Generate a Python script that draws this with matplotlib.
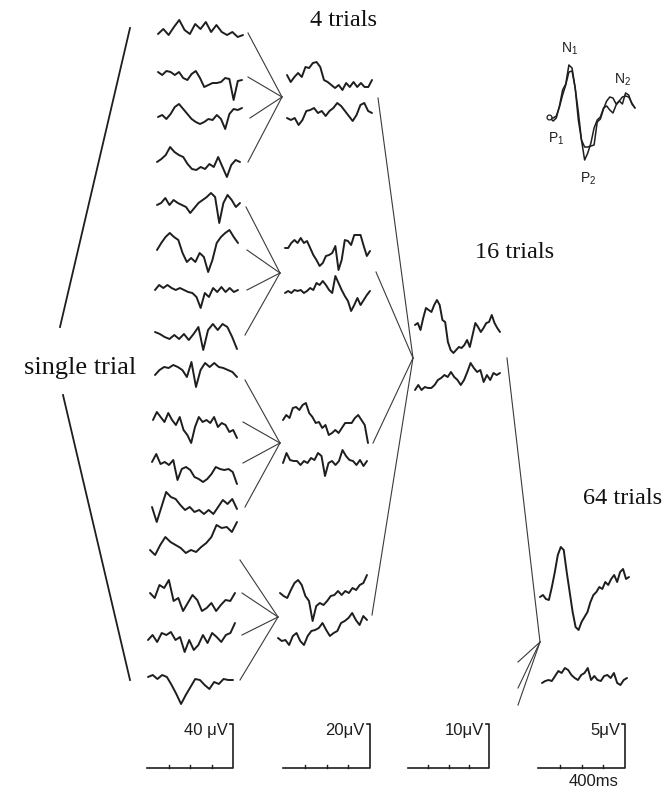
import numpy as np
import matplotlib
matplotlib.use("Agg")
import matplotlib.pyplot as plt

# ---------------- data: deflections of each trace (arbitrary units, up = positive) -------------
single_trials = [
    [-2, 3, -3, 5, 12, 2, -2, 8, 3, 10, 0, 7, 0, -3, 0, -5, -3],
    [3, 0, 4, 3, 0, 3, -3, -5, 1, 4, -3, -12, -10, -8, -8, -7, -3, -4, -25, -6, -5],
    [0, 2, -2, 3, 10, 13, 8, 3, -2, -5, -7, -5, -2, -3, 2, -2, -12, 3, 8, 7, 9],
    [0, 3, 7, 15, 10, 7, 5, -2, -7, -8, -5, -7, -2, -5, 5, -5, -15, -3, 2, 0],
    [0, 2, 7, 0, 5, 2, 0, -2, -8, -3, 2, 5, 8, 12, 8, -18, 2, 10, 5, -2, 2],
    [0, 7, 13, 17, 13, 10, -3, -12, -8, -12, -3, -7, -22, -10, 7, 13, 17, 20, 13, 7],
    [0, 5, 2, 5, 2, 0, 2, 0, -2, -3, -7, -18, -3, -7, 2, -2, 3, -2, 2, -2, 0],
    [0, -2, -5, -7, -3, -7, -2, -8, -2, 5, -18, 2, 8, 2, 8, 5, -5, -17],
    [0, 5, 8, 7, 10, 8, 5, -2, 13, -12, 5, 12, 8, 12, 8, 7, 5, 3, -2],
    [0, 8, 3, -2, 7, 0, -5, 3, -10, -15, -23, -7, 3, -2, 0, -3, 3, -7, -3, -5, -12, -10, -18],
    [0, 8, -2, 0, -3, 2, -18, -7, -5, -8, -15, -17, -20, -17, -12, -5, -7, -8, -7, -10, -22],
    [0, -15, 0, 15, 10, 8, 2, -3, 0, -5, -3, -7, -3, -7, 0, 7, 3, 8, -2],
    [0, -5, 5, 13, 8, 5, 2, -3, 0, -2, 3, 7, 13, 25, 22, 23, 18, 28],
    [0, -5, 8, 5, 13, -8, -5, -18, -10, -2, -7, -18, -15, -10, -18, -12, -7, -8, 0],
    [0, 5, -2, 7, 5, 8, 0, 3, -12, 0, -10, -5, 5, -3, 7, 3, -2, 5, 7, 17],
    [0, 2, -2, 2, 0, -8, -17, -27, -18, -10, -2, -3, -8, -12, -5, -7, -2, -3, -3],
]

four_trials = [
    [0, -7, -2, 2, -2, 8, 7, 12, 13, 8, -5, -7, -10, -13, -10, -15, -8, -12, -7, -12, -8, -12, -12, -5],
    [0, -2, 0, -7, -2, 7, 8, 10, 5, 7, 2, 7, 10, 15, 12, 7, 2, -3, 3, 13, 15, 7, 5],
    [0, 0, 5, 8, 5, 10, 5, 7, 0, -7, -12, -18, -15, -8, -7, -5, 2, -22, -12, 8, 7, 3, 13, 13, 13, 2, -8, -3],
    [0, 2, 0, 3, 2, 3, 0, 2, 5, 3, 10, 8, 12, 8, 3, 0, 17, 10, 3, -3, -8, -18, -12, -5, -12, -7, -2, 2],
    [0, 5, 2, 12, 13, 10, 15, 17, 7, 3, -3, -2, -8, -5, -15, -13, -10, -13, -8, -3, -3, -3, 2, 5, 0, -5, -23],
    [0, 10, 3, 2, 2, -2, 2, 0, 5, 3, 10, 7, -13, 0, 2, -2, 2, 13, 7, 3, 2, -2, 3, -3, 2],
    [0, -3, -5, 3, 10, 13, 8, -3, -8, -28, -13, -10, -12, -8, -3, -2, 2, -2, 2, 0, 5, 3, 8, 10, 18],
    [0, -3, -2, -7, 2, 5, -3, -7, 2, 7, 8, 10, 15, 8, 2, 5, 7, 15, 17, 20, 25, 18, 13, 22, 18],
]

sixteen_trials = [
    [0, 2, -5, 7, 17, 15, 13, 20, 25, 20, 5, 3, -17, -25, -28, -25, -22, -23, -20, -15, -22, -10, 2, -2, -7, -3, 2, 3, 10, 2, -3, -7],
    [0, 5, 0, 3, 2, 2, 5, 10, 12, 15, 13, 18, 13, 10, 5, 10, 18, 27, 22, 18, 20, 8, 15, 10, 17, 15, 17],
]

sixty_four_trials = [
    [0, 2, -2, -3, 10, 25, 42, 50, 47, 25, 5, -15, -30, -33, -25, -20, -15, -5, 2, 5, 10, 8, 15, 12, 18, 22, 15, 25, 28, 18, 20],
    [0, 2, 3, 2, 7, 12, 10, 15, 13, 8, 5, 3, 8, 10, 15, 3, 7, 3, 2, 7, 8, 5, 10, 0, -2, 3, 5],
]

inset_traces = [
    [0, -3, 0, 12, 28, 34, 53, 50, 30, 6, -22, -29, -29, -28, -27, -4, -1, 9, 17, 21, 20, 14, 17, 14, 25, 23, 14, 10],
    [0, 0, 2, 11, 23, 33, 46, 47, 30, -2, -22, -42, -35, -25, -10, -2, 1, 10, 12, 8, 5, 13, 17, 21, 22, 21, 15, 10],
]
inset_labels = ["N$_\\mathregular{1}$", "N$_\\mathregular{2}$", "P$_\\mathregular{1}$", "P$_\\mathregular{2}$"]

column_titles = ["single trial", "4 trials", "16 trials", "64 trials"]
scale_labels = ["40 μV", "20μV", "10μV", "5μV"]
time_label = "400ms"

# ---------------- layout (pixel coordinates) ----------------
single_base = [32, 75, 117, 162, 205, 250, 290, 332, 375, 420, 462, 507, 550, 593, 640, 677]
single_x0 = [158, 158, 158, 157, 157, 157, 155, 155, 155, 153, 152, 152, 150, 150, 148, 148]
single_x1 = [243, 242, 242, 240, 240, 238, 238, 237, 237, 237, 237, 237, 237, 235, 235, 233]

four_base = [75, 118, 248, 293, 420, 463, 593, 638]
four_x0 = [287, 287, 285, 285, 283, 283, 280, 278]
four_x1 = [372, 372, 370, 370, 368, 367, 367, 367]

sixteen_base = [325, 390]
sixteen_x = (415, 500)
sf_base = [597, 683]
sf_x0 = [540, 542]
sf_x1 = [629, 627]

ink = "#1e1e1e"
line_c = "#3a3a3a"

fig = plt.figure(figsize=(6.62, 7.89), dpi=100)
ax = fig.add_axes([0, 0, 1, 1])
ax.set_xlim(0, 662)
ax.set_ylim(789, 0)
ax.axis("off")


def trace(vals, x0, x1, base, lw=1.4, color=ink):
    v = np.asarray(vals, dtype=float)
    x = np.linspace(x0, x1, len(v))
    ax.plot(x, base - v, color=color, lw=lw, solid_joinstyle="round", solid_capstyle="round")


for vals, b, a, c in zip(single_trials, single_base, single_x0, single_x1):
    trace(vals, a, c, b)
for vals, b, a, c in zip(four_trials, four_base, four_x0, four_x1):
    trace(vals, a, c, b)
for vals, b in zip(sixteen_trials, sixteen_base):
    trace(vals, sixteen_x[0], sixteen_x[1], b)
for vals, b, a, c in zip(sixty_four_trials, sf_base, sf_x0, sf_x1):
    trace(vals, a, c, b)

# fan-in lines
fans = [
    ((282, 97), [(248, 33), (248, 77), (250, 118), (248, 162)]),
    ((280, 273), [(246, 207), (247, 250), (247, 290), (245, 335)]),
    ((280, 443), [(245, 380), (243, 422), (243, 463), (245, 507)]),
    ((278, 617), [(240, 560), (242, 593), (242, 635), (240, 680)]),
    ((413, 358), [(378, 98), (376, 272), (373, 443), (372, 615)]),
    ((540, 642), [(507, 358), (518, 662), (518, 688), (518, 705)]),
]
for (jx, jy), starts in fans:
    for sx, sy in starts:
        ax.plot([sx, jx], [sy, jy], color=line_c, lw=0.8)

# big bracket lines for single trials
ax.plot([130, 60], [28, 327], color=ink, lw=1.3)
ax.plot([63, 130], [395, 680], color=ink, lw=1.3)

# titles
serif = ["Liberation Serif", "DejaVu Serif"]
ax.text(80, 368, column_titles[0], family=serif, fontsize=19, ha="center", va="center", color="#111111")
ax.text(343, 20, column_titles[1], family=serif, fontsize=17.5, ha="center", va="center", color="#111111")
ax.text(515, 252, column_titles[2], family=serif, fontsize=17.5, ha="center", va="center", color="#111111")
ax.text(623, 498, column_titles[3], family=serif, fontsize=17.5, ha="center", va="center", color="#111111")

# inset
x_in = (550, 635)
for vals in inset_traces:
    trace(vals, x_in[0], x_in[1], 118, lw=1.1)
ax.plot([549], [117], marker="o", ms=3.5, mfc="white", mec=ink, mew=0.9)
sans = ["Liberation Sans", "DejaVu Sans"]
ax.text(570, 49, inset_labels[0], family=sans, fontsize=10, ha="center", va="center", color=ink)
ax.text(623, 80, inset_labels[1], family=sans, fontsize=10, ha="center", va="center", color=ink)
ax.text(556, 139, inset_labels[2], family=sans, fontsize=10, ha="center", va="center", color=ink)
ax.text(588, 179, inset_labels[3], family=sans, fontsize=10, ha="center", va="center", color=ink)

# scale bars
bars = [(147, 233), (283, 370), (408, 489), (538, 625)]
for (bx0, bx1), lab in zip(bars, scale_labels):
    ybot, ytop = 768, 724
    ax.plot([bx0, bx1, bx1, bx1 - 3], [ybot, ybot, ytop, ytop], color=ink, lw=1.2)
    for k in range(1, 4):
        tx = bx0 + (bx1 - bx0) * k / 4
        ax.plot([tx, tx], [ybot, ybot - 3], color=ink, lw=1.0)
    ax.text(bx1 - 5, 730, lab, family=sans, fontsize=12, ha="right", va="center", color=ink)
ax.text(594, 781, time_label, family=sans, fontsize=12, ha="center", va="center", color=ink)

fig.savefig("out.png", dpi=100, facecolor="white")
